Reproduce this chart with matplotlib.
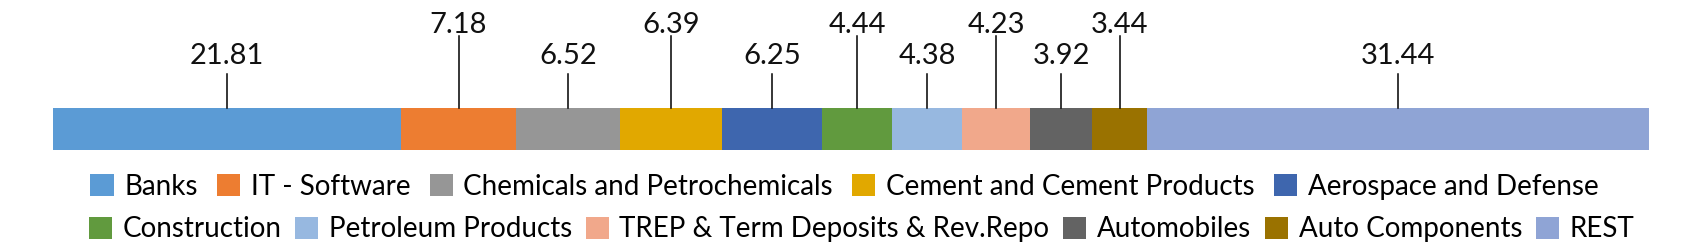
import matplotlib.pyplot as plt
import numpy as np

sectors = ["Banks", "IT - Software", "Chemicals and Petrochemicals",
           "Cement and Cement Products", "Aerospace and Defense",
           "Construction", "Petroleum Products", "TREP & Term Deposits & Rev.Repo",
           "Automobiles", "Auto Components", "REST"]
weights = [21.81, 7.18, 6.52, 6.39, 6.25, 4.44, 4.38, 4.23, 3.92, 3.44, 31.44]
colors = ["#5b9bd5", "#ed7d31", "#969696", "#e1a800", "#3e66ae",
          "#619a3e", "#97b8e0", "#f1a88b", "#636363", "#9a7200", "#8fa4d5"]

plt.rcParams["font.family"] = ["Lato", "DejaVu Sans"]

fig = plt.figure(figsize=(17.06, 2.52), dpi=100)
ax = fig.add_axes([0, 0, 1, 1])
# y axis in pixel units (top = 0); bar runs from 0 to 100 on x
ax.set_ylim(252, 0)
ax.set_xlim(-3.34, 103.57)
ax.axis("off")

lefts = np.concatenate([[0], np.cumsum(weights)[:-1]])
bars = []
for i, (name, w, left, c) in enumerate(zip(sectors, weights, lefts, colors)):
    b = ax.barh(129, w, left=left, height=42, color=c, label=name)
    bars.append(b)
    xc = left + w / 2
    # labels alternate between a low and a high level
    high = i % 2 == 1
    top = 36 if high else 74
    ty = 25 if high else 56
    ax.plot([xc, xc], [108, top], color="black", lw=1.1)
    ax.text(xc, ty, f"{w:.2f}", ha="center", va="center", fontsize=21, color="#111111")

opts = dict(loc="center", frameon=False, fontsize=20, handlelength=0.83,
            handleheight=0.83, handletextpad=0.38, borderpad=0)
leg1 = ax.legend(handles=bars[:5], ncol=5, bbox_to_anchor=(0.495, 0.258),
                 columnspacing=0.7, **opts)
ax.add_artist(leg1)
ax.legend(handles=bars[5:], ncol=6, bbox_to_anchor=(0.505, 0.09),
          columnspacing=0.5, **opts)

fig.savefig("out.png", dpi=100)
